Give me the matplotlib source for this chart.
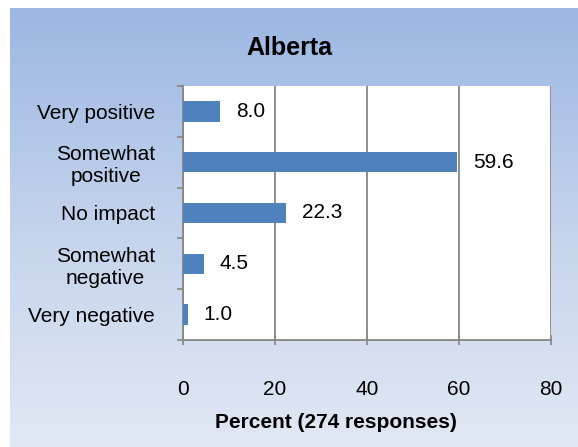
import matplotlib
matplotlib.use("Agg")
import matplotlib.pyplot as plt
import numpy as np
from matplotlib.colors import LinearSegmentedColormap

categories = ["Very positive", "Somewhat\npositive", "No impact", "Somewhat\nnegative", "Very negative"]
values = [8.0, 59.6, 22.3, 4.5, 1.0]
x_ticks = [0, 20, 40, 60, 80]
title = "Alberta"
xlabel = "Percent (274 responses)"

plt.rcParams['font.family'] = ['Liberation Sans', 'DejaVu Sans']

fig = plt.figure(figsize=(5.78, 4.47), dpi=100)
fig.patch.set_facecolor('white')

# gradient panel
bg = fig.add_axes([10/578, 0, 1 - 10/578, 1 - 8/447])
cmap = LinearSegmentedColormap.from_list('g', ['#9bb7e3', '#c4d3ec', '#e1e8f4'])
grad = np.linspace(0, 1, 256).reshape(-1, 1)
bg.imshow(grad, aspect='auto', cmap=cmap, extent=[0, 1, 0, 1], origin='upper')
bg.set_axis_off()
bg.set_zorder(0)

ax = fig.add_axes([183/578, 107/447, (551-183)/578, (361-107)/447])
ax.set_zorder(1)
ax.set_facecolor('white')
y = np.arange(len(categories))
ax.barh(y, values, height=0.4, color='#4f81bd', zorder=3)
ax.set_ylim(len(categories) - 0.5, -0.5)
ax.set_xlim(0, 80)
ax.set_xticks(x_ticks)
ax.set_xticklabels([str(t) for t in x_ticks], fontsize=15)
ax.set_yticks(y)
ax.set_yticklabels(categories, fontsize=15, multialignment='center', linespacing=1.2)
ax.set_yticks(np.arange(len(categories) + 1) - 0.5, minor=True)
ax.tick_params(axis='y', which='major', length=0, pad=20)
ax.tick_params(axis='y', which='minor', length=4, color='#868686', width=1.2, direction='out')
ax.tick_params(axis='x', length=7, color='#868686', width=1.2, direction='inout', pad=25)
ax.xaxis.grid(True, color='#868686', lw=1.3, zorder=1)
for s in ['top', 'right']:
    ax.spines[s].set_visible(False)
for s in ['left', 'bottom']:
    ax.spines[s].set_color('#868686')
    ax.spines[s].set_linewidth(1.3)

for yi, v in zip(y, values):
    ax.annotate(f"{v:.1f}", (v, yi), xytext=(11.5, 0), textcoords='offset points',
                va='center', ha='left', fontsize=15)

fig.text(289/578, 1 - 48/447, title, fontsize=18, fontweight='bold',
         ha='center', va='center')
fig.text(336/578, 1 - 423/447, xlabel, fontsize=15, fontweight='bold',
         ha='center', va='center')

fig.savefig('out.png', dpi=100)
